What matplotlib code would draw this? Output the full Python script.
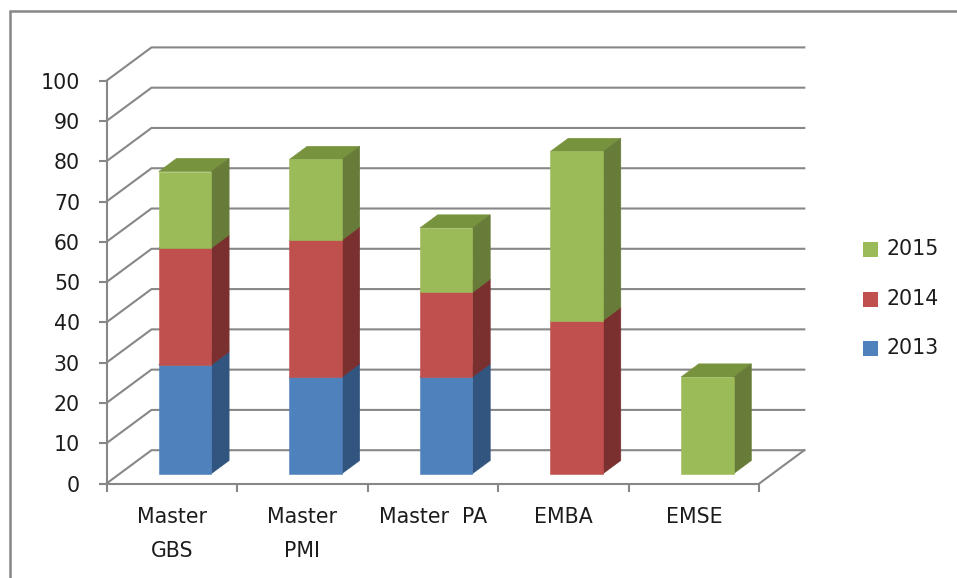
import matplotlib
matplotlib.use("Agg")
import matplotlib.pyplot as plt
from matplotlib.patches import Polygon, Rectangle
from matplotlib.lines import Line2D

# ---- data ----
categories = ["Master\nGBS", "Master\nPMI", "Master  PA", "EMBA", "EMSE"]
series_names = ["2013", "2014", "2015"]
v2013 = [27, 24, 24, 0, 0]
v2014 = [29, 34, 21, 38, 0]
v2015 = [19, 20, 16, 42, 24]
yticks = [0, 10, 20, 30, 40, 50, 60, 70, 80, 90, 100]

front_colors = ["#4F81BD", "#C0504D", "#9BBB59"]
side_colors = ["#31557F", "#7A302F", "#677C38"]
top_colors = ["#3F6A9E", "#9A3E3C", "#77933D"]

plt.rcParams['font.family'] = ['DejaVu Sans']
FS = 14.8
TXT = "#1c1c1c"
GRID = "#878787"

W, H = 957, 578
fig = plt.figure(figsize=(W / 100, H / 100), dpi=100)
x0p, x1p = 106.5, 759.3
y0p, y100p = 483.5, 80.7
ax = fig.add_axes([x0p / W, 1 - y0p / H, (x1p - x0p) / W, (y0p - y100p) / H])
ax.set_xlim(0, 5)
ax.set_ylim(0, 100)
ax.patch.set_alpha(0)

pxcat = (x1p - x0p) / 5
pxval = (y0p - y100p) / 100
DX = 45 / pxcat
DY = 33.3 / pxval


def P(x, y, z):
    return (x + z * DX, y + z * DY)


# back wall gridlines + left floor/wall diagonals
for v in yticks:
    pts = [P(0, v, 0), P(0, v, 1), P(5, v, 1)]
    ax.add_line(Line2D([p[0] for p in pts], [p[1] for p in pts], color=GRID,
                       lw=1.5, clip_on=False, zorder=1))
# right floor diagonal
pts = [P(5, 0, 0), P(5, 0, 1)]
ax.add_line(Line2D([p[0] for p in pts], [p[1] for p in pts], color=GRID,
                   lw=1.5, clip_on=False, zorder=1))

# bars
hw = 26.3 / pxcat
z0, z1 = 0.295, 0.69
series = [v2013, v2014, v2015]
for i in range(len(categories)):
    c = i + 0.5
    base = 0
    for s, vals in enumerate(series):
        h = vals[i]
        if h <= 0:
            continue
        b, t = base, base + h
        front = [P(c - hw, b, z0), P(c + hw, b, z0), P(c + hw, t, z0), P(c - hw, t, z0)]
        side = [P(c + hw, b, z0), P(c + hw, b, z1), P(c + hw, t, z1), P(c + hw, t, z0)]
        top = [P(c - hw, t, z0), P(c + hw, t, z0), P(c + hw, t, z1), P(c - hw, t, z1)]
        zb = 3 + s * 0.1
        ax.add_patch(Polygon(top, closed=True, fc=top_colors[s], ec=top_colors[s], lw=0.4,
                             clip_on=False, zorder=zb))
        ax.add_patch(Polygon(side, closed=True, fc=side_colors[s], ec=side_colors[s], lw=0.4,
                             clip_on=False, zorder=zb + 0.01))
        ax.add_patch(Polygon(front, closed=True, fc=front_colors[s], ec=front_colors[s], lw=0.4,
                             clip_on=False, zorder=zb + 0.02))
        base = t

# axes spines / ticks
for sp in ["top", "right"]:
    ax.spines[sp].set_visible(False)
for sp in ["left", "bottom"]:
    ax.spines[sp].set_color(GRID)
    ax.spines[sp].set_linewidth(1.5)
    ax.spines[sp].set_zorder(2)

ax.set_yticks(yticks)
ax.set_yticklabels([str(v) for v in yticks])
ax.tick_params(axis="y", direction="out", length=6, width=1.5, color=GRID,
               pad=13, labelsize=FS, labelcolor=TXT)

ax.set_xticks([i + 0.5 for i in range(len(categories))])
ax.set_xticklabels(categories, linespacing=1.85)
ax.set_xticks(list(range(0, 6)), minor=True)
ax.tick_params(axis="x", which="major", length=0, pad=17, labelsize=FS, labelcolor=TXT)
ax.tick_params(axis="x", which="minor", direction="out", length=6, width=1.5, color=GRID)

# legend (top to bottom: 2015, 2014, 2013)
leg_y = [249, 299, 348]
for k, s in enumerate([2, 1, 0]):
    yc = leg_y[k]
    fig.patches.append(Rectangle((863 / W, 1 - (yc + 7.5) / H), 15 / W, 15 / H,
                                 transform=fig.transFigure, fc=front_colors[s], ec="none"))
    fig.text(887 / W, 1 - yc / H, series_names[s], fontsize=FS, color=TXT,
             va="center", ha="left")

# outer chart border (left & top visible only)
bx, by = 9.5 / W, 1 - 10.5 / H
fig.lines.append(Line2D([bx, bx, 1.05], [-0.05, by, by], transform=fig.transFigure,
                        color=GRID, lw=1.8, solid_joinstyle="miter"))

fig.savefig("out.png", dpi=100, facecolor="white")
